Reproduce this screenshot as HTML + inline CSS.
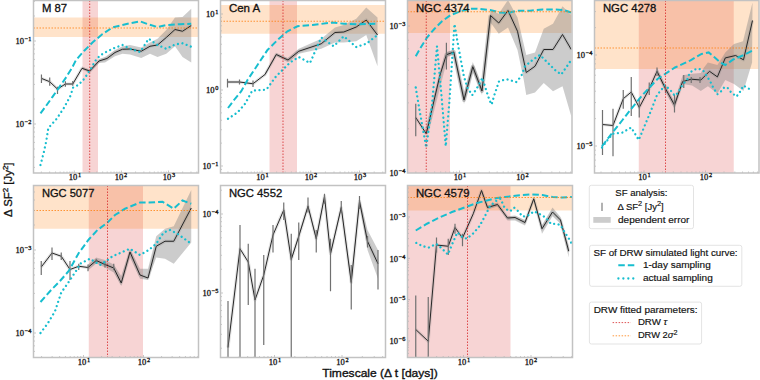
<!DOCTYPE html><html><head><meta charset="utf-8"><style>html,body{margin:0;padding:0;background:#fff;width:760px;height:380px;overflow:hidden}svg{display:block}</style></head><body>
<svg width="760" height="380" viewBox="0 0 760 380">
<rect width="760" height="380" fill="#fff"/>
<clipPath id="c0"><rect x="33.5" y="0.5" width="165.0" height="172.5"/></clipPath>
<g clip-path="url(#c0)">
<rect x="82.5" y="0.5" width="15.5" height="172.5" fill="#d62728" fill-opacity="0.2"/>
<rect x="33.5" y="17.5" width="165.0" height="19.5" fill="#ff7f0e" fill-opacity="0.22"/>
<polygon points="82.00,66.50 89.70,70.00 99.00,59.00 105.00,57.00 115.00,50.00 122.50,46.25 130.00,45.00 141.25,47.50 150.00,42.50 157.50,38.75 166.25,30.00 175.00,17.50 182.50,17.00 191.25,8.75 191.25,62.50 182.50,57.00 175.00,46.25 166.25,53.75 157.50,57.00 150.00,53.75 141.25,58.00 130.00,54.50 122.50,53.75 115.00,56.25 105.00,62.50 99.00,63.00 89.70,73.00 82.00,69.00" fill="#808080" fill-opacity="0.4" stroke="none"/>
<polyline points="41.45,78.40 49.70,81.70 57.50,89.10 65.40,84.00 72.75,84.00 82.00,68.30 89.70,71.00 99.00,61.00 107.00,58.50 115.00,52.50 122.50,49.25 130.00,49.00 141.25,51.25 150.00,46.25 157.50,45.00 166.25,37.50 175.00,29.50 182.50,31.25 191.25,25.50" fill="none" stroke="#808080" stroke-opacity="0.22" stroke-width="3.2" stroke-linejoin="round"/>
<polyline points="41.45,78.40 49.70,81.70 57.50,89.10 65.40,84.00 72.75,84.00 82.00,68.30 89.70,71.00 99.00,61.00 107.00,58.50 115.00,52.50 122.50,49.25 130.00,49.00 141.25,51.25 150.00,46.25 157.50,45.00 166.25,37.50 175.00,29.50 182.50,31.25 191.25,25.50" fill="none" stroke="#262626" stroke-width="1.0" stroke-linejoin="miter"/>
<line x1="41.45" y1="74.4" x2="41.45" y2="83" stroke="#707070" stroke-width="1.2"/>
<line x1="49.7" y1="77.5" x2="49.7" y2="85.8" stroke="#707070" stroke-width="1.2"/>
<line x1="57.5" y1="86.7" x2="57.5" y2="94" stroke="#707070" stroke-width="1.2"/>
<line x1="65.4" y1="81.2" x2="65.4" y2="86.7" stroke="#707070" stroke-width="1.2"/>
<line x1="72.75" y1="81" x2="72.75" y2="85.8" stroke="#707070" stroke-width="1.2"/>
<polyline points="40.50,113.40 46.00,106.00 52.50,96.80 59.00,87.60 65.40,78.40 71.80,68.30 76.00,60.00 84.00,51.00 92.50,42.50 102.50,34.00 112.50,27.50 122.50,25.00 130.00,23.25 140.00,21.25 148.75,24.50 157.50,27.00 166.25,25.00 180.00,24.25 191.25,23.75" fill="none" stroke="#17becf" stroke-width="2" stroke-dasharray="6.5 3"/>
<polyline points="40.50,165.00 43.75,152.50 46.25,141.25 48.30,128.10 56.60,118.90 63.90,107.90 70.40,95.90 73.10,87.60 76.80,85.80 82.40,81.20 87.00,74.70 91.60,67.40 95.20,60.90 100.00,55.50 105.00,52.50 113.75,48.25 122.50,45.00 130.00,48.75 140.00,52.00 148.75,38.75 157.50,45.00 166.25,48.75 175.00,44.50 182.50,43.25 191.25,46.75" fill="none" stroke="#17becf" stroke-width="2.3" stroke-dasharray="0.01 4.5" stroke-linecap="round"/>
<line x1="89.7" y1="0.5" x2="89.7" y2="173" stroke="#d62728" stroke-width="1" stroke-dasharray="1.5 1.5" stroke-opacity="0.8"/>
<line x1="33.5" y1="28" x2="198.5" y2="28" stroke="#ff7f0e" stroke-width="1" stroke-dasharray="1.5 1.5" stroke-opacity="0.8"/>
</g>
<line x1="41.38" y1="173" x2="41.38" y2="171.5" stroke="#b0b0b0" stroke-width="0.7"/><line x1="49.67" y1="173" x2="49.67" y2="171.5" stroke="#b0b0b0" stroke-width="0.7"/><line x1="55.56" y1="173" x2="55.56" y2="171.5" stroke="#b0b0b0" stroke-width="0.7"/><line x1="60.12" y1="173" x2="60.12" y2="171.5" stroke="#b0b0b0" stroke-width="0.7"/><line x1="63.85" y1="173" x2="63.85" y2="171.5" stroke="#b0b0b0" stroke-width="0.7"/><line x1="67.00" y1="173" x2="67.00" y2="171.5" stroke="#b0b0b0" stroke-width="0.7"/><line x1="69.74" y1="173" x2="69.74" y2="171.5" stroke="#b0b0b0" stroke-width="0.7"/><line x1="72.14" y1="173" x2="72.14" y2="171.5" stroke="#b0b0b0" stroke-width="0.7"/><line x1="74.30" y1="173" x2="74.30" y2="170.5" stroke="#b0b0b0" stroke-width="0.7"/><line x1="88.48" y1="173" x2="88.48" y2="171.5" stroke="#b0b0b0" stroke-width="0.7"/><line x1="96.77" y1="173" x2="96.77" y2="171.5" stroke="#b0b0b0" stroke-width="0.7"/><line x1="102.66" y1="173" x2="102.66" y2="171.5" stroke="#b0b0b0" stroke-width="0.7"/><line x1="107.22" y1="173" x2="107.22" y2="171.5" stroke="#b0b0b0" stroke-width="0.7"/><line x1="110.95" y1="173" x2="110.95" y2="171.5" stroke="#b0b0b0" stroke-width="0.7"/><line x1="114.10" y1="173" x2="114.10" y2="171.5" stroke="#b0b0b0" stroke-width="0.7"/><line x1="116.84" y1="173" x2="116.84" y2="171.5" stroke="#b0b0b0" stroke-width="0.7"/><line x1="119.24" y1="173" x2="119.24" y2="171.5" stroke="#b0b0b0" stroke-width="0.7"/><line x1="121.40" y1="173" x2="121.40" y2="170.5" stroke="#b0b0b0" stroke-width="0.7"/><line x1="135.58" y1="173" x2="135.58" y2="171.5" stroke="#b0b0b0" stroke-width="0.7"/><line x1="143.87" y1="173" x2="143.87" y2="171.5" stroke="#b0b0b0" stroke-width="0.7"/><line x1="149.76" y1="173" x2="149.76" y2="171.5" stroke="#b0b0b0" stroke-width="0.7"/><line x1="154.32" y1="173" x2="154.32" y2="171.5" stroke="#b0b0b0" stroke-width="0.7"/><line x1="158.05" y1="173" x2="158.05" y2="171.5" stroke="#b0b0b0" stroke-width="0.7"/><line x1="161.20" y1="173" x2="161.20" y2="171.5" stroke="#b0b0b0" stroke-width="0.7"/><line x1="163.94" y1="173" x2="163.94" y2="171.5" stroke="#b0b0b0" stroke-width="0.7"/><line x1="166.34" y1="173" x2="166.34" y2="171.5" stroke="#b0b0b0" stroke-width="0.7"/><line x1="168.50" y1="173" x2="168.50" y2="170.5" stroke="#b0b0b0" stroke-width="0.7"/><line x1="182.68" y1="173" x2="182.68" y2="171.5" stroke="#b0b0b0" stroke-width="0.7"/><line x1="190.97" y1="173" x2="190.97" y2="171.5" stroke="#b0b0b0" stroke-width="0.7"/><line x1="196.86" y1="173" x2="196.86" y2="171.5" stroke="#b0b0b0" stroke-width="0.7"/><line x1="33.5" y1="167.40" x2="35.0" y2="167.40" stroke="#b0b0b0" stroke-width="0.7"/><line x1="33.5" y1="157.03" x2="35.0" y2="157.03" stroke="#b0b0b0" stroke-width="0.7"/><line x1="33.5" y1="148.99" x2="35.0" y2="148.99" stroke="#b0b0b0" stroke-width="0.7"/><line x1="33.5" y1="142.41" x2="35.0" y2="142.41" stroke="#b0b0b0" stroke-width="0.7"/><line x1="33.5" y1="136.86" x2="35.0" y2="136.86" stroke="#b0b0b0" stroke-width="0.7"/><line x1="33.5" y1="132.04" x2="35.0" y2="132.04" stroke="#b0b0b0" stroke-width="0.7"/><line x1="33.5" y1="127.80" x2="35.0" y2="127.80" stroke="#b0b0b0" stroke-width="0.7"/><line x1="33.5" y1="124.00" x2="36.0" y2="124.00" stroke="#b0b0b0" stroke-width="0.7"/><line x1="33.5" y1="99.01" x2="35.0" y2="99.01" stroke="#b0b0b0" stroke-width="0.7"/><line x1="33.5" y1="84.40" x2="35.0" y2="84.40" stroke="#b0b0b0" stroke-width="0.7"/><line x1="33.5" y1="74.03" x2="35.0" y2="74.03" stroke="#b0b0b0" stroke-width="0.7"/><line x1="33.5" y1="65.99" x2="35.0" y2="65.99" stroke="#b0b0b0" stroke-width="0.7"/><line x1="33.5" y1="59.41" x2="35.0" y2="59.41" stroke="#b0b0b0" stroke-width="0.7"/><line x1="33.5" y1="53.86" x2="35.0" y2="53.86" stroke="#b0b0b0" stroke-width="0.7"/><line x1="33.5" y1="49.04" x2="35.0" y2="49.04" stroke="#b0b0b0" stroke-width="0.7"/><line x1="33.5" y1="44.80" x2="35.0" y2="44.80" stroke="#b0b0b0" stroke-width="0.7"/><line x1="33.5" y1="41.00" x2="36.0" y2="41.00" stroke="#b0b0b0" stroke-width="0.7"/><line x1="33.5" y1="16.01" x2="35.0" y2="16.01" stroke="#b0b0b0" stroke-width="0.7"/><line x1="33.5" y1="1.40" x2="35.0" y2="1.40" stroke="#b0b0b0" stroke-width="0.7"/>
<rect x="33.5" y="0.5" width="165.0" height="172.5" fill="none" stroke="#c2c2c2" stroke-width="1.5"/>
<text x="41.9" y="12.1" font-family="Liberation Sans" font-size="11.2" fill="#111" stroke="#111" stroke-width="0.3" textLength="25.2" lengthAdjust="spacingAndGlyphs">M 87</text>
<g transform="translate(31.5,44.4) scale(0.95,1)"><text x="0" y="0" text-anchor="end" font-family="Liberation Serif" font-size="9" fill="#1a1a1a" stroke="#1a1a1a" stroke-width="0.35">10<tspan font-size="6.6" dx="0.9" dy="-3.0">−1</tspan></text></g>
<g transform="translate(31.5,127.4) scale(0.95,1)"><text x="0" y="0" text-anchor="end" font-family="Liberation Serif" font-size="9" fill="#1a1a1a" stroke="#1a1a1a" stroke-width="0.35">10<tspan font-size="6.6" dx="0.9" dy="-3.0">−2</tspan></text></g>
<g transform="translate(75,180.4) scale(0.95,1)"><text x="0" y="0" text-anchor="middle" font-family="Liberation Serif" font-size="9" fill="#1a1a1a" stroke="#1a1a1a" stroke-width="0.35">10<tspan font-size="6.6" dx="0.9" dy="-3.0">1</tspan></text></g>
<g transform="translate(121,180.4) scale(0.95,1)"><text x="0" y="0" text-anchor="middle" font-family="Liberation Serif" font-size="9" fill="#1a1a1a" stroke="#1a1a1a" stroke-width="0.35">10<tspan font-size="6.6" dx="0.9" dy="-3.0">2</tspan></text></g>
<g transform="translate(169,180.4) scale(0.95,1)"><text x="0" y="0" text-anchor="middle" font-family="Liberation Serif" font-size="9" fill="#1a1a1a" stroke="#1a1a1a" stroke-width="0.35">10<tspan font-size="6.6" dx="0.9" dy="-3.0">3</tspan></text></g>
<clipPath id="c1"><rect x="220.5" y="0.5" width="165.0" height="172.5"/></clipPath>
<g clip-path="url(#c1)">
<rect x="269.5" y="0.5" width="27.5" height="172.5" fill="#d62728" fill-opacity="0.2"/>
<rect x="220.5" y="5" width="165.0" height="28.75" fill="#ff7f0e" fill-opacity="0.22"/>
<polygon points="265.00,73.00 276.25,53.00 287.50,58.00 290.00,56.25 298.75,48.75 310.00,43.75 321.25,38.75 335.00,27.50 343.75,25.00 356.25,18.75 366.25,7.50 377.50,17.50 377.50,66.25 366.25,35.00 356.25,41.25 343.75,42.50 335.00,42.50 321.25,48.75 310.00,51.25 298.75,53.75 290.00,61.25 287.50,62.00 276.25,56.00 265.00,76.00" fill="#808080" fill-opacity="0.4" stroke="none"/>
<polyline points="227.50,82.00 239.50,82.00 253.00,83.75 265.00,74.50 276.25,54.50 288.00,60.00 298.75,51.25 310.00,47.50 321.25,43.75 335.00,32.50 343.75,32.00 356.25,27.00 366.25,20.00 377.50,35.00" fill="none" stroke="#808080" stroke-opacity="0.22" stroke-width="3.2" stroke-linejoin="round"/>
<polyline points="227.50,82.00 239.50,82.00 253.00,83.75 265.00,74.50 276.25,54.50 288.00,60.00 298.75,51.25 310.00,47.50 321.25,43.75 335.00,32.50 343.75,32.00 356.25,27.00 366.25,20.00 377.50,35.00" fill="none" stroke="#262626" stroke-width="1.0" stroke-linejoin="miter"/>
<line x1="227.5" y1="78.75" x2="227.5" y2="87.5" stroke="#707070" stroke-width="1.2"/>
<line x1="239.5" y1="79.5" x2="239.5" y2="84.5" stroke="#707070" stroke-width="1.2"/>
<line x1="253" y1="80.5" x2="253" y2="87" stroke="#707070" stroke-width="1.2"/>
<polyline points="228.00,108.00 235.00,98.75 241.25,91.25 247.50,80.00 257.50,65.00 267.50,50.00 277.50,40.00 287.50,31.25 297.50,26.25 312.50,25.00 332.50,22.50 343.75,23.75 357.50,24.25 377.50,23.75" fill="none" stroke="#17becf" stroke-width="2" stroke-dasharray="6.5 3"/>
<polyline points="228.00,118.75 237.50,112.50 245.10,103.75 252.20,90.70 259.00,90.20 266.40,89.60 275.90,76.50 282.50,70.00 290.00,62.50 298.75,57.00 310.00,63.00 321.25,37.50 333.75,46.25 343.75,36.25 356.25,47.00 366.25,43.75 377.50,35.00" fill="none" stroke="#17becf" stroke-width="2.3" stroke-dasharray="0.01 4.5" stroke-linecap="round"/>
<line x1="283" y1="0.5" x2="283" y2="173" stroke="#d62728" stroke-width="1" stroke-dasharray="1.5 1.5" stroke-opacity="0.8"/>
<line x1="220.5" y1="21.25" x2="385.5" y2="21.25" stroke="#ff7f0e" stroke-width="1" stroke-dasharray="1.5 1.5" stroke-opacity="0.8"/>
</g>
<line x1="227.93" y1="173" x2="227.93" y2="171.5" stroke="#b0b0b0" stroke-width="0.7"/><line x1="236.51" y1="173" x2="236.51" y2="171.5" stroke="#b0b0b0" stroke-width="0.7"/><line x1="242.60" y1="173" x2="242.60" y2="171.5" stroke="#b0b0b0" stroke-width="0.7"/><line x1="247.32" y1="173" x2="247.32" y2="171.5" stroke="#b0b0b0" stroke-width="0.7"/><line x1="251.18" y1="173" x2="251.18" y2="171.5" stroke="#b0b0b0" stroke-width="0.7"/><line x1="254.45" y1="173" x2="254.45" y2="171.5" stroke="#b0b0b0" stroke-width="0.7"/><line x1="257.28" y1="173" x2="257.28" y2="171.5" stroke="#b0b0b0" stroke-width="0.7"/><line x1="259.77" y1="173" x2="259.77" y2="171.5" stroke="#b0b0b0" stroke-width="0.7"/><line x1="262.00" y1="173" x2="262.00" y2="170.5" stroke="#b0b0b0" stroke-width="0.7"/><line x1="276.68" y1="173" x2="276.68" y2="171.5" stroke="#b0b0b0" stroke-width="0.7"/><line x1="285.26" y1="173" x2="285.26" y2="171.5" stroke="#b0b0b0" stroke-width="0.7"/><line x1="291.35" y1="173" x2="291.35" y2="171.5" stroke="#b0b0b0" stroke-width="0.7"/><line x1="296.07" y1="173" x2="296.07" y2="171.5" stroke="#b0b0b0" stroke-width="0.7"/><line x1="299.93" y1="173" x2="299.93" y2="171.5" stroke="#b0b0b0" stroke-width="0.7"/><line x1="303.20" y1="173" x2="303.20" y2="171.5" stroke="#b0b0b0" stroke-width="0.7"/><line x1="306.03" y1="173" x2="306.03" y2="171.5" stroke="#b0b0b0" stroke-width="0.7"/><line x1="308.52" y1="173" x2="308.52" y2="171.5" stroke="#b0b0b0" stroke-width="0.7"/><line x1="310.75" y1="173" x2="310.75" y2="170.5" stroke="#b0b0b0" stroke-width="0.7"/><line x1="325.43" y1="173" x2="325.43" y2="171.5" stroke="#b0b0b0" stroke-width="0.7"/><line x1="334.01" y1="173" x2="334.01" y2="171.5" stroke="#b0b0b0" stroke-width="0.7"/><line x1="340.10" y1="173" x2="340.10" y2="171.5" stroke="#b0b0b0" stroke-width="0.7"/><line x1="344.82" y1="173" x2="344.82" y2="171.5" stroke="#b0b0b0" stroke-width="0.7"/><line x1="348.68" y1="173" x2="348.68" y2="171.5" stroke="#b0b0b0" stroke-width="0.7"/><line x1="351.95" y1="173" x2="351.95" y2="171.5" stroke="#b0b0b0" stroke-width="0.7"/><line x1="354.78" y1="173" x2="354.78" y2="171.5" stroke="#b0b0b0" stroke-width="0.7"/><line x1="357.27" y1="173" x2="357.27" y2="171.5" stroke="#b0b0b0" stroke-width="0.7"/><line x1="359.50" y1="173" x2="359.50" y2="170.5" stroke="#b0b0b0" stroke-width="0.7"/><line x1="374.18" y1="173" x2="374.18" y2="171.5" stroke="#b0b0b0" stroke-width="0.7"/><line x1="382.76" y1="173" x2="382.76" y2="171.5" stroke="#b0b0b0" stroke-width="0.7"/><line x1="220.5" y1="169.48" x2="222.0" y2="169.48" stroke="#b0b0b0" stroke-width="0.7"/><line x1="220.5" y1="166.00" x2="223.0" y2="166.00" stroke="#b0b0b0" stroke-width="0.7"/><line x1="220.5" y1="143.12" x2="222.0" y2="143.12" stroke="#b0b0b0" stroke-width="0.7"/><line x1="220.5" y1="129.74" x2="222.0" y2="129.74" stroke="#b0b0b0" stroke-width="0.7"/><line x1="220.5" y1="120.24" x2="222.0" y2="120.24" stroke="#b0b0b0" stroke-width="0.7"/><line x1="220.5" y1="112.88" x2="222.0" y2="112.88" stroke="#b0b0b0" stroke-width="0.7"/><line x1="220.5" y1="106.86" x2="222.0" y2="106.86" stroke="#b0b0b0" stroke-width="0.7"/><line x1="220.5" y1="101.77" x2="222.0" y2="101.77" stroke="#b0b0b0" stroke-width="0.7"/><line x1="220.5" y1="97.37" x2="222.0" y2="97.37" stroke="#b0b0b0" stroke-width="0.7"/><line x1="220.5" y1="93.48" x2="222.0" y2="93.48" stroke="#b0b0b0" stroke-width="0.7"/><line x1="220.5" y1="90.00" x2="223.0" y2="90.00" stroke="#b0b0b0" stroke-width="0.7"/><line x1="220.5" y1="67.12" x2="222.0" y2="67.12" stroke="#b0b0b0" stroke-width="0.7"/><line x1="220.5" y1="53.74" x2="222.0" y2="53.74" stroke="#b0b0b0" stroke-width="0.7"/><line x1="220.5" y1="44.24" x2="222.0" y2="44.24" stroke="#b0b0b0" stroke-width="0.7"/><line x1="220.5" y1="36.88" x2="222.0" y2="36.88" stroke="#b0b0b0" stroke-width="0.7"/><line x1="220.5" y1="30.86" x2="222.0" y2="30.86" stroke="#b0b0b0" stroke-width="0.7"/><line x1="220.5" y1="25.77" x2="222.0" y2="25.77" stroke="#b0b0b0" stroke-width="0.7"/><line x1="220.5" y1="21.37" x2="222.0" y2="21.37" stroke="#b0b0b0" stroke-width="0.7"/><line x1="220.5" y1="17.48" x2="222.0" y2="17.48" stroke="#b0b0b0" stroke-width="0.7"/><line x1="220.5" y1="14.00" x2="223.0" y2="14.00" stroke="#b0b0b0" stroke-width="0.7"/>
<rect x="220.5" y="0.5" width="165.0" height="172.5" fill="none" stroke="#c2c2c2" stroke-width="1.5"/>
<text x="228.9" y="12.1" font-family="Liberation Sans" font-size="11.2" fill="#111" stroke="#111" stroke-width="0.3" textLength="31.3" lengthAdjust="spacingAndGlyphs">Cen A</text>
<g transform="translate(218.5,17.4) scale(0.95,1)"><text x="0" y="0" text-anchor="end" font-family="Liberation Serif" font-size="9" fill="#1a1a1a" stroke="#1a1a1a" stroke-width="0.35">10<tspan font-size="6.6" dx="0.9" dy="-3.0">1</tspan></text></g>
<g transform="translate(218.5,93.4) scale(0.95,1)"><text x="0" y="0" text-anchor="end" font-family="Liberation Serif" font-size="9" fill="#1a1a1a" stroke="#1a1a1a" stroke-width="0.35">10<tspan font-size="6.6" dx="0.9" dy="-3.0">0</tspan></text></g>
<g transform="translate(218.5,169.4) scale(0.95,1)"><text x="0" y="0" text-anchor="end" font-family="Liberation Serif" font-size="9" fill="#1a1a1a" stroke="#1a1a1a" stroke-width="0.35">10<tspan font-size="6.6" dx="0.9" dy="-3.0">−1</tspan></text></g>
<g transform="translate(262.5,180.4) scale(0.95,1)"><text x="0" y="0" text-anchor="middle" font-family="Liberation Serif" font-size="9" fill="#1a1a1a" stroke="#1a1a1a" stroke-width="0.35">10<tspan font-size="6.6" dx="0.9" dy="-3.0">1</tspan></text></g>
<g transform="translate(311,180.4) scale(0.95,1)"><text x="0" y="0" text-anchor="middle" font-family="Liberation Serif" font-size="9" fill="#1a1a1a" stroke="#1a1a1a" stroke-width="0.35">10<tspan font-size="6.6" dx="0.9" dy="-3.0">2</tspan></text></g>
<g transform="translate(360,180.4) scale(0.95,1)"><text x="0" y="0" text-anchor="middle" font-family="Liberation Serif" font-size="9" fill="#1a1a1a" stroke="#1a1a1a" stroke-width="0.35">10<tspan font-size="6.6" dx="0.9" dy="-3.0">3</tspan></text></g>
<clipPath id="c2"><rect x="407.5" y="0.5" width="164.5" height="172.5"/></clipPath>
<g clip-path="url(#c2)">
<rect x="407.5" y="0.5" width="42.5" height="172.5" fill="#d62728" fill-opacity="0.2"/>
<rect x="407.5" y="0" width="164.5" height="33" fill="#ff7f0e" fill-opacity="0.22"/>
<polygon points="446.40,52.00 453.80,49.50 464.00,94.00 472.80,62.00 482.00,87.00 490.50,10.00 498.75,13.75 508.00,0.00 517.50,17.50 526.25,55.00 535.00,52.50 543.75,28.75 553.00,23.75 562.50,6.25 571.25,15.00 571.25,116.25 562.50,86.25 553.00,91.25 543.75,83.00 535.00,92.50 526.25,95.00 523.75,80.00 517.50,50.00 508.00,27.50 498.75,33.75 490.50,22.50 482.00,95.00 472.80,71.00 464.00,104.00 453.80,55.00 446.40,57.00" fill="#808080" fill-opacity="0.4" stroke="none"/>
<polyline points="415.75,117.50 426.25,133.75 440.00,75.00 446.40,54.70 453.80,52.00 464.00,100.00 472.80,66.70 482.00,91.00 490.50,15.50 498.75,23.00 508.00,10.50 517.50,31.25 526.25,72.50 535.00,66.25 543.75,49.50 553.00,49.50 562.50,34.50 571.25,49.50" fill="none" stroke="#808080" stroke-opacity="0.22" stroke-width="3.2" stroke-linejoin="round"/>
<polyline points="426.25,133.75 446.40,54.70 453.80,52.00 464.00,100.00 472.80,66.70 482.00,91.00 490.50,15.50" fill="none" stroke="#808080" stroke-opacity="0.35" stroke-width="4" stroke-linejoin="round"/>
<polyline points="415.75,117.50 426.25,133.75 440.00,75.00 446.40,54.70 453.80,52.00 464.00,100.00 472.80,66.70 482.00,91.00 490.50,15.50 498.75,23.00 508.00,10.50 517.50,31.25 526.25,72.50 535.00,66.25 543.75,49.50 553.00,49.50 562.50,34.50 571.25,49.50" fill="none" stroke="#262626" stroke-width="1.0" stroke-linejoin="miter"/>
<line x1="415.75" y1="103.75" x2="415.75" y2="136.25" stroke="#707070" stroke-width="1.2"/>
<line x1="446.4" y1="42.8" x2="446.4" y2="69.5" stroke="#707070" stroke-width="1.2"/>
<polyline points="415.75,56.25 420.75,47.50 427.00,37.50 434.50,28.75 442.00,21.25 450.75,15.00 460.75,11.25 469.50,8.75 477.00,8.75 490.00,10.00 500.00,12.50 507.50,13.00 517.50,10.75 530.00,10.75 542.50,9.50 555.00,9.50 563.75,10.00 571.25,12.50" fill="none" stroke="#17becf" stroke-width="2" stroke-dasharray="6.5 3"/>
<polyline points="415.75,87.50 419.50,110.00 426.25,147.50 432.00,105.00 437.00,46.25 441.00,90.00 445.75,146.25 449.50,100.00 454.50,24.00 457.50,41.80 461.20,62.00 464.00,76.80 467.60,87.90 472.20,95.20 476.00,89.70 479.60,83.30 482.40,77.80 486.00,89.70 489.70,100.80 491.60,104.50 494.30,95.20 499.00,81.40 503.75,80.00 507.50,79.50 516.25,82.00 521.25,76.25 525.00,66.25 532.50,60.00 540.00,55.00 547.50,62.50 555.00,70.00 561.25,74.50 571.25,60.00" fill="none" stroke="#17becf" stroke-width="2.3" stroke-dasharray="0.01 4.5" stroke-linecap="round"/>
<line x1="426.25" y1="0.5" x2="426.25" y2="173" stroke="#d62728" stroke-width="1" stroke-dasharray="1.5 1.5" stroke-opacity="0.8"/>
<line x1="407.5" y1="11.75" x2="572" y2="11.75" stroke="#ff7f0e" stroke-width="1" stroke-dasharray="1.5 1.5" stroke-opacity="0.8"/>
</g>
<line x1="415.81" y1="173" x2="415.81" y2="171.5" stroke="#b0b0b0" stroke-width="0.7"/><line x1="426.82" y1="173" x2="426.82" y2="171.5" stroke="#b0b0b0" stroke-width="0.7"/><line x1="434.63" y1="173" x2="434.63" y2="171.5" stroke="#b0b0b0" stroke-width="0.7"/><line x1="440.69" y1="173" x2="440.69" y2="171.5" stroke="#b0b0b0" stroke-width="0.7"/><line x1="445.63" y1="173" x2="445.63" y2="171.5" stroke="#b0b0b0" stroke-width="0.7"/><line x1="449.82" y1="173" x2="449.82" y2="171.5" stroke="#b0b0b0" stroke-width="0.7"/><line x1="453.44" y1="173" x2="453.44" y2="171.5" stroke="#b0b0b0" stroke-width="0.7"/><line x1="456.64" y1="173" x2="456.64" y2="171.5" stroke="#b0b0b0" stroke-width="0.7"/><line x1="459.50" y1="173" x2="459.50" y2="170.5" stroke="#b0b0b0" stroke-width="0.7"/><line x1="478.31" y1="173" x2="478.31" y2="171.5" stroke="#b0b0b0" stroke-width="0.7"/><line x1="489.32" y1="173" x2="489.32" y2="171.5" stroke="#b0b0b0" stroke-width="0.7"/><line x1="497.13" y1="173" x2="497.13" y2="171.5" stroke="#b0b0b0" stroke-width="0.7"/><line x1="503.19" y1="173" x2="503.19" y2="171.5" stroke="#b0b0b0" stroke-width="0.7"/><line x1="508.13" y1="173" x2="508.13" y2="171.5" stroke="#b0b0b0" stroke-width="0.7"/><line x1="512.32" y1="173" x2="512.32" y2="171.5" stroke="#b0b0b0" stroke-width="0.7"/><line x1="515.94" y1="173" x2="515.94" y2="171.5" stroke="#b0b0b0" stroke-width="0.7"/><line x1="519.14" y1="173" x2="519.14" y2="171.5" stroke="#b0b0b0" stroke-width="0.7"/><line x1="522.00" y1="173" x2="522.00" y2="170.5" stroke="#b0b0b0" stroke-width="0.7"/><line x1="540.81" y1="173" x2="540.81" y2="171.5" stroke="#b0b0b0" stroke-width="0.7"/><line x1="551.82" y1="173" x2="551.82" y2="171.5" stroke="#b0b0b0" stroke-width="0.7"/><line x1="559.63" y1="173" x2="559.63" y2="171.5" stroke="#b0b0b0" stroke-width="0.7"/><line x1="565.69" y1="173" x2="565.69" y2="171.5" stroke="#b0b0b0" stroke-width="0.7"/><line x1="570.63" y1="173" x2="570.63" y2="171.5" stroke="#b0b0b0" stroke-width="0.7"/><line x1="407.5" y1="128.75" x2="409.0" y2="128.75" stroke="#b0b0b0" stroke-width="0.7"/><line x1="407.5" y1="102.86" x2="409.0" y2="102.86" stroke="#b0b0b0" stroke-width="0.7"/><line x1="407.5" y1="84.50" x2="409.0" y2="84.50" stroke="#b0b0b0" stroke-width="0.7"/><line x1="407.5" y1="70.25" x2="409.0" y2="70.25" stroke="#b0b0b0" stroke-width="0.7"/><line x1="407.5" y1="58.61" x2="409.0" y2="58.61" stroke="#b0b0b0" stroke-width="0.7"/><line x1="407.5" y1="48.77" x2="409.0" y2="48.77" stroke="#b0b0b0" stroke-width="0.7"/><line x1="407.5" y1="40.25" x2="409.0" y2="40.25" stroke="#b0b0b0" stroke-width="0.7"/><line x1="407.5" y1="32.73" x2="409.0" y2="32.73" stroke="#b0b0b0" stroke-width="0.7"/><line x1="407.5" y1="26.00" x2="410.0" y2="26.00" stroke="#b0b0b0" stroke-width="0.7"/>
<rect x="407.5" y="0.5" width="164.5" height="172.5" fill="none" stroke="#c2c2c2" stroke-width="1.5"/>
<text x="415.9" y="12.1" font-family="Liberation Sans" font-size="11.2" fill="#111" stroke="#111" stroke-width="0.3" textLength="53.7" lengthAdjust="spacingAndGlyphs">NGC 4374</text>
<g transform="translate(405.5,29.4) scale(0.95,1)"><text x="0" y="0" text-anchor="end" font-family="Liberation Serif" font-size="9" fill="#1a1a1a" stroke="#1a1a1a" stroke-width="0.35">10<tspan font-size="6.6" dx="0.9" dy="-3.0">−3</tspan></text></g>
<g transform="translate(405.5,176.4) scale(0.95,1)"><text x="0" y="0" text-anchor="end" font-family="Liberation Serif" font-size="9" fill="#1a1a1a" stroke="#1a1a1a" stroke-width="0.35">10<tspan font-size="6.6" dx="0.9" dy="-3.0">−4</tspan></text></g>
<g transform="translate(460,180.4) scale(0.95,1)"><text x="0" y="0" text-anchor="middle" font-family="Liberation Serif" font-size="9" fill="#1a1a1a" stroke="#1a1a1a" stroke-width="0.35">10<tspan font-size="6.6" dx="0.9" dy="-3.0">1</tspan></text></g>
<g transform="translate(522.5,180.4) scale(0.95,1)"><text x="0" y="0" text-anchor="middle" font-family="Liberation Serif" font-size="9" fill="#1a1a1a" stroke="#1a1a1a" stroke-width="0.35">10<tspan font-size="6.6" dx="0.9" dy="-3.0">2</tspan></text></g>
<clipPath id="c3"><rect x="594.5" y="0.5" width="164.5" height="172.5"/></clipPath>
<g clip-path="url(#c3)">
<rect x="638.75" y="0.5" width="95.0" height="172.5" fill="#d62728" fill-opacity="0.2"/>
<rect x="594.5" y="0" width="164.5" height="69" fill="#ff7f0e" fill-opacity="0.22"/>
<polygon points="657.00,68.00 665.50,85.00 674.50,102.00 682.60,75.30 692.10,73.70 700.80,72.90 704.00,67.40 707.90,62.60 717.40,65.00 725.30,52.40 734.00,44.00 743.00,41.25 752.50,2.50 752.10,62.60 743.50,91.10 734.00,84.00 725.30,80.00 717.40,93.40 707.90,86.30 700.80,91.10 692.10,85.50 682.60,84.00 674.50,109.00 665.50,92.00 657.00,74.00" fill="#808080" fill-opacity="0.4" stroke="none"/>
<polyline points="602.50,124.50 613.00,125.50 623.25,98.75 631.25,92.00 639.25,107.50 649.25,88.75 657.00,71.25 665.50,88.75 674.50,105.00 682.60,81.60 691.30,79.20 700.80,80.00 709.50,71.30 717.40,76.90 725.30,57.90 735.60,55.50 743.50,59.80 752.50,20.50" fill="none" stroke="#808080" stroke-opacity="0.22" stroke-width="3.2" stroke-linejoin="round"/>
<polyline points="602.50,124.50 613.00,125.50 623.25,98.75 631.25,92.00 639.25,107.50 649.25,88.75 657.00,71.25 665.50,88.75 674.50,105.00 682.60,81.60 691.30,79.20 700.80,80.00 709.50,71.30 717.40,76.90 725.30,57.90 735.60,55.50 743.50,59.80 752.50,20.50" fill="none" stroke="#262626" stroke-width="1.0" stroke-linejoin="miter"/>
<line x1="602.5" y1="110" x2="602.5" y2="155" stroke="#707070" stroke-width="1.2"/>
<line x1="613" y1="108.75" x2="613" y2="156.25" stroke="#707070" stroke-width="1.2"/>
<line x1="623.25" y1="90" x2="623.25" y2="108.75" stroke="#707070" stroke-width="1.2"/>
<line x1="631.25" y1="77" x2="631.25" y2="116" stroke="#707070" stroke-width="1.2"/>
<line x1="639.25" y1="98.75" x2="639.25" y2="117.5" stroke="#707070" stroke-width="1.2"/>
<line x1="649.25" y1="82.5" x2="649.25" y2="95" stroke="#707070" stroke-width="1.2"/>
<line x1="657" y1="67.5" x2="657" y2="76" stroke="#707070" stroke-width="1.2"/>
<line x1="665.5" y1="85" x2="665.5" y2="93" stroke="#707070" stroke-width="1.2"/>
<line x1="674.5" y1="95" x2="674.5" y2="112.5" stroke="#707070" stroke-width="1.2"/>
<line x1="683.75" y1="75" x2="683.75" y2="88" stroke="#707070" stroke-width="1.2"/>
<line x1="691.25" y1="77" x2="691.25" y2="83" stroke="#707070" stroke-width="1.2"/>
<line x1="700" y1="77" x2="700" y2="83" stroke="#707070" stroke-width="1.2"/>
<polyline points="602.00,146.25 612.50,132.50 622.50,120.00 631.25,108.75 642.50,95.00 657.50,79.00 675.00,67.50 690.50,60.30 701.60,53.90 708.70,52.40 714.20,57.10 720.60,62.60 725.30,65.00 733.20,59.50 742.70,55.50 752.10,50.80" fill="none" stroke="#17becf" stroke-width="2" stroke-dasharray="6.5 3"/>
<polyline points="602.00,147.50 607.50,140.00 613.00,133.75 622.50,132.50 631.25,127.50 638.75,140.00 645.00,125.00 651.25,110.00 657.00,95.00 661.25,90.00 665.00,85.00 668.75,88.75 672.00,92.00 674.70,95.80 677.90,92.70 682.60,84.80 687.40,79.20 689.70,72.90 693.70,69.70 698.40,68.60 703.20,70.50 706.30,75.30 710.30,81.60 713.40,87.90 717.40,94.20 721.30,91.10 724.50,87.10 727.70,87.90 730.80,91.90 736.40,96.60 739.50,92.70 743.50,85.50 747.40,87.90 752.10,90.30" fill="none" stroke="#17becf" stroke-width="2.3" stroke-dasharray="0.01 4.5" stroke-linecap="round"/>
<line x1="665.5" y1="0.5" x2="665.5" y2="173" stroke="#d62728" stroke-width="1" stroke-dasharray="1.5 1.5" stroke-opacity="0.8"/>
<line x1="594.5" y1="48" x2="759" y2="48" stroke="#ff7f0e" stroke-width="1" stroke-dasharray="1.5 1.5" stroke-opacity="0.8"/>
</g>
<line x1="601.01" y1="173" x2="601.01" y2="171.5" stroke="#b0b0b0" stroke-width="0.7"/><line x1="611.84" y1="173" x2="611.84" y2="171.5" stroke="#b0b0b0" stroke-width="0.7"/><line x1="619.53" y1="173" x2="619.53" y2="171.5" stroke="#b0b0b0" stroke-width="0.7"/><line x1="625.49" y1="173" x2="625.49" y2="171.5" stroke="#b0b0b0" stroke-width="0.7"/><line x1="630.36" y1="173" x2="630.36" y2="171.5" stroke="#b0b0b0" stroke-width="0.7"/><line x1="634.47" y1="173" x2="634.47" y2="171.5" stroke="#b0b0b0" stroke-width="0.7"/><line x1="638.04" y1="173" x2="638.04" y2="171.5" stroke="#b0b0b0" stroke-width="0.7"/><line x1="641.19" y1="173" x2="641.19" y2="171.5" stroke="#b0b0b0" stroke-width="0.7"/><line x1="644.00" y1="173" x2="644.00" y2="170.5" stroke="#b0b0b0" stroke-width="0.7"/><line x1="662.51" y1="173" x2="662.51" y2="171.5" stroke="#b0b0b0" stroke-width="0.7"/><line x1="673.34" y1="173" x2="673.34" y2="171.5" stroke="#b0b0b0" stroke-width="0.7"/><line x1="681.03" y1="173" x2="681.03" y2="171.5" stroke="#b0b0b0" stroke-width="0.7"/><line x1="686.99" y1="173" x2="686.99" y2="171.5" stroke="#b0b0b0" stroke-width="0.7"/><line x1="691.86" y1="173" x2="691.86" y2="171.5" stroke="#b0b0b0" stroke-width="0.7"/><line x1="695.97" y1="173" x2="695.97" y2="171.5" stroke="#b0b0b0" stroke-width="0.7"/><line x1="699.54" y1="173" x2="699.54" y2="171.5" stroke="#b0b0b0" stroke-width="0.7"/><line x1="702.69" y1="173" x2="702.69" y2="171.5" stroke="#b0b0b0" stroke-width="0.7"/><line x1="705.50" y1="173" x2="705.50" y2="170.5" stroke="#b0b0b0" stroke-width="0.7"/><line x1="724.01" y1="173" x2="724.01" y2="171.5" stroke="#b0b0b0" stroke-width="0.7"/><line x1="734.84" y1="173" x2="734.84" y2="171.5" stroke="#b0b0b0" stroke-width="0.7"/><line x1="742.53" y1="173" x2="742.53" y2="171.5" stroke="#b0b0b0" stroke-width="0.7"/><line x1="748.49" y1="173" x2="748.49" y2="171.5" stroke="#b0b0b0" stroke-width="0.7"/><line x1="753.36" y1="173" x2="753.36" y2="171.5" stroke="#b0b0b0" stroke-width="0.7"/><line x1="757.47" y1="173" x2="757.47" y2="171.5" stroke="#b0b0b0" stroke-width="0.7"/><line x1="594.5" y1="166.19" x2="596.0" y2="166.19" stroke="#b0b0b0" stroke-width="0.7"/><line x1="594.5" y1="160.10" x2="596.0" y2="160.10" stroke="#b0b0b0" stroke-width="0.7"/><line x1="594.5" y1="154.82" x2="596.0" y2="154.82" stroke="#b0b0b0" stroke-width="0.7"/><line x1="594.5" y1="150.16" x2="596.0" y2="150.16" stroke="#b0b0b0" stroke-width="0.7"/><line x1="594.5" y1="146.00" x2="597.0" y2="146.00" stroke="#b0b0b0" stroke-width="0.7"/><line x1="594.5" y1="118.61" x2="596.0" y2="118.61" stroke="#b0b0b0" stroke-width="0.7"/><line x1="594.5" y1="102.58" x2="596.0" y2="102.58" stroke="#b0b0b0" stroke-width="0.7"/><line x1="594.5" y1="91.21" x2="596.0" y2="91.21" stroke="#b0b0b0" stroke-width="0.7"/><line x1="594.5" y1="82.39" x2="596.0" y2="82.39" stroke="#b0b0b0" stroke-width="0.7"/><line x1="594.5" y1="75.19" x2="596.0" y2="75.19" stroke="#b0b0b0" stroke-width="0.7"/><line x1="594.5" y1="69.10" x2="596.0" y2="69.10" stroke="#b0b0b0" stroke-width="0.7"/><line x1="594.5" y1="63.82" x2="596.0" y2="63.82" stroke="#b0b0b0" stroke-width="0.7"/><line x1="594.5" y1="59.16" x2="596.0" y2="59.16" stroke="#b0b0b0" stroke-width="0.7"/><line x1="594.5" y1="55.00" x2="597.0" y2="55.00" stroke="#b0b0b0" stroke-width="0.7"/><line x1="594.5" y1="27.61" x2="596.0" y2="27.61" stroke="#b0b0b0" stroke-width="0.7"/><line x1="594.5" y1="11.58" x2="596.0" y2="11.58" stroke="#b0b0b0" stroke-width="0.7"/>
<rect x="594.5" y="0.5" width="164.5" height="172.5" fill="none" stroke="#c2c2c2" stroke-width="1.5"/>
<text x="602.9" y="12.1" font-family="Liberation Sans" font-size="11.2" fill="#111" stroke="#111" stroke-width="0.3" textLength="53.5" lengthAdjust="spacingAndGlyphs">NGC 4278</text>
<g transform="translate(592.5,58.4) scale(0.95,1)"><text x="0" y="0" text-anchor="end" font-family="Liberation Serif" font-size="9" fill="#1a1a1a" stroke="#1a1a1a" stroke-width="0.35">10<tspan font-size="6.6" dx="0.9" dy="-3.0">−4</tspan></text></g>
<g transform="translate(592.5,149.4) scale(0.95,1)"><text x="0" y="0" text-anchor="end" font-family="Liberation Serif" font-size="9" fill="#1a1a1a" stroke="#1a1a1a" stroke-width="0.35">10<tspan font-size="6.6" dx="0.9" dy="-3.0">−5</tspan></text></g>
<g transform="translate(644.5,180.4) scale(0.95,1)"><text x="0" y="0" text-anchor="middle" font-family="Liberation Serif" font-size="9" fill="#1a1a1a" stroke="#1a1a1a" stroke-width="0.35">10<tspan font-size="6.6" dx="0.9" dy="-3.0">1</tspan></text></g>
<g transform="translate(706,180.4) scale(0.95,1)"><text x="0" y="0" text-anchor="middle" font-family="Liberation Serif" font-size="9" fill="#1a1a1a" stroke="#1a1a1a" stroke-width="0.35">10<tspan font-size="6.6" dx="0.9" dy="-3.0">2</tspan></text></g>
<clipPath id="c4"><rect x="33.5" y="185.5" width="165.0" height="172.0"/></clipPath>
<g clip-path="url(#c4)">
<rect x="88.75" y="185.5" width="54.25" height="172.0" fill="#d62728" fill-opacity="0.2"/>
<rect x="33.5" y="185" width="165.0" height="43.75" fill="#ff7f0e" fill-opacity="0.22"/>
<polygon points="88.00,264.50 96.25,257.50 105.00,260.00 113.75,264.50 121.25,276.00 130.00,248.75 140.00,268.75 148.00,268.75 156.25,236.25 165.00,228.75 173.75,226.25 191.25,190.00 191.25,242.50 173.75,263.75 165.00,258.75 156.25,257.50 148.00,280.00 140.00,278.75 130.00,257.50 121.25,286.00 113.75,272.50 105.00,267.50 96.25,263.50 88.00,270.50" fill="#808080" fill-opacity="0.4" stroke="none"/>
<polyline points="41.25,267.00 52.00,253.00 61.25,256.25 70.00,269.50 78.75,266.25 88.00,267.50 96.25,260.50 105.00,264.50 113.75,268.00 121.25,283.00 130.00,252.00 140.00,275.00 148.00,278.00 156.25,246.25 165.00,241.25 173.75,241.25 191.25,208.00" fill="none" stroke="#808080" stroke-opacity="0.22" stroke-width="3.2" stroke-linejoin="round"/>
<polyline points="41.25,267.00 52.00,253.00 61.25,256.25 70.00,269.50 78.75,266.25 88.00,267.50 96.25,260.50 105.00,264.50 113.75,268.00 121.25,283.00 130.00,252.00 140.00,275.00 148.00,278.00 156.25,246.25 165.00,241.25 173.75,241.25 191.25,208.00" fill="none" stroke="#262626" stroke-width="1.0" stroke-linejoin="miter"/>
<line x1="41.25" y1="261" x2="41.25" y2="275" stroke="#707070" stroke-width="1.2"/>
<line x1="52" y1="247.5" x2="52" y2="260" stroke="#707070" stroke-width="1.2"/>
<line x1="61.25" y1="252.5" x2="61.25" y2="260" stroke="#707070" stroke-width="1.2"/>
<line x1="70" y1="261" x2="70" y2="280" stroke="#707070" stroke-width="1.2"/>
<line x1="78.75" y1="263.75" x2="78.75" y2="270" stroke="#707070" stroke-width="1.2"/>
<line x1="88" y1="264.5" x2="88" y2="271.25" stroke="#707070" stroke-width="1.2"/>
<line x1="96.25" y1="258.75" x2="96.25" y2="263.75" stroke="#707070" stroke-width="1.2"/>
<line x1="105" y1="261.25" x2="105" y2="267.5" stroke="#707070" stroke-width="1.2"/>
<line x1="113.75" y1="263.75" x2="113.75" y2="270" stroke="#707070" stroke-width="1.2"/>
<polyline points="40.50,302.00 50.00,291.25 60.00,281.00 68.75,271.00 78.75,253.00 88.75,239.50 97.50,230.00 107.50,222.50 115.00,215.00 125.00,208.75 140.00,202.50 148.75,202.50 162.50,201.75 173.75,208.75 182.50,200.50 191.25,203.75" fill="none" stroke="#17becf" stroke-width="2" stroke-dasharray="6.5 3"/>
<polyline points="40.50,333.00 47.50,323.75 55.00,311.25 61.25,292.50 67.50,283.75 77.50,268.75 80.00,263.75 90.00,258.75 100.00,265.00 107.50,260.00 112.50,256.25 121.25,252.50 130.00,248.75 140.00,255.00 148.75,250.00 156.25,243.75 163.75,232.50 170.00,230.00 177.50,233.75 191.25,243.75" fill="none" stroke="#17becf" stroke-width="2.3" stroke-dasharray="0.01 4.5" stroke-linecap="round"/>
<line x1="107.5" y1="185.5" x2="107.5" y2="357.5" stroke="#d62728" stroke-width="1" stroke-dasharray="1.5 1.5" stroke-opacity="0.8"/>
<line x1="33.5" y1="210.5" x2="198.5" y2="210.5" stroke="#ff7f0e" stroke-width="1" stroke-dasharray="1.5 1.5" stroke-opacity="0.8"/>
</g>
<line x1="41.56" y1="357.5" x2="41.56" y2="356.0" stroke="#b0b0b0" stroke-width="0.7"/><line x1="52.13" y1="357.5" x2="52.13" y2="356.0" stroke="#b0b0b0" stroke-width="0.7"/><line x1="59.62" y1="357.5" x2="59.62" y2="356.0" stroke="#b0b0b0" stroke-width="0.7"/><line x1="65.44" y1="357.5" x2="65.44" y2="356.0" stroke="#b0b0b0" stroke-width="0.7"/><line x1="70.19" y1="357.5" x2="70.19" y2="356.0" stroke="#b0b0b0" stroke-width="0.7"/><line x1="74.21" y1="357.5" x2="74.21" y2="356.0" stroke="#b0b0b0" stroke-width="0.7"/><line x1="77.69" y1="357.5" x2="77.69" y2="356.0" stroke="#b0b0b0" stroke-width="0.7"/><line x1="80.75" y1="357.5" x2="80.75" y2="356.0" stroke="#b0b0b0" stroke-width="0.7"/><line x1="83.50" y1="357.5" x2="83.50" y2="355.0" stroke="#b0b0b0" stroke-width="0.7"/><line x1="101.56" y1="357.5" x2="101.56" y2="356.0" stroke="#b0b0b0" stroke-width="0.7"/><line x1="112.13" y1="357.5" x2="112.13" y2="356.0" stroke="#b0b0b0" stroke-width="0.7"/><line x1="119.62" y1="357.5" x2="119.62" y2="356.0" stroke="#b0b0b0" stroke-width="0.7"/><line x1="125.44" y1="357.5" x2="125.44" y2="356.0" stroke="#b0b0b0" stroke-width="0.7"/><line x1="130.19" y1="357.5" x2="130.19" y2="356.0" stroke="#b0b0b0" stroke-width="0.7"/><line x1="134.21" y1="357.5" x2="134.21" y2="356.0" stroke="#b0b0b0" stroke-width="0.7"/><line x1="137.69" y1="357.5" x2="137.69" y2="356.0" stroke="#b0b0b0" stroke-width="0.7"/><line x1="140.75" y1="357.5" x2="140.75" y2="356.0" stroke="#b0b0b0" stroke-width="0.7"/><line x1="143.50" y1="357.5" x2="143.50" y2="355.0" stroke="#b0b0b0" stroke-width="0.7"/><line x1="161.56" y1="357.5" x2="161.56" y2="356.0" stroke="#b0b0b0" stroke-width="0.7"/><line x1="172.13" y1="357.5" x2="172.13" y2="356.0" stroke="#b0b0b0" stroke-width="0.7"/><line x1="179.62" y1="357.5" x2="179.62" y2="356.0" stroke="#b0b0b0" stroke-width="0.7"/><line x1="185.44" y1="357.5" x2="185.44" y2="356.0" stroke="#b0b0b0" stroke-width="0.7"/><line x1="190.19" y1="357.5" x2="190.19" y2="356.0" stroke="#b0b0b0" stroke-width="0.7"/><line x1="194.21" y1="357.5" x2="194.21" y2="356.0" stroke="#b0b0b0" stroke-width="0.7"/><line x1="197.69" y1="357.5" x2="197.69" y2="356.0" stroke="#b0b0b0" stroke-width="0.7"/><line x1="33.5" y1="351.41" x2="35.0" y2="351.41" stroke="#b0b0b0" stroke-width="0.7"/><line x1="33.5" y1="345.86" x2="35.0" y2="345.86" stroke="#b0b0b0" stroke-width="0.7"/><line x1="33.5" y1="341.04" x2="35.0" y2="341.04" stroke="#b0b0b0" stroke-width="0.7"/><line x1="33.5" y1="336.80" x2="35.0" y2="336.80" stroke="#b0b0b0" stroke-width="0.7"/><line x1="33.5" y1="333.00" x2="36.0" y2="333.00" stroke="#b0b0b0" stroke-width="0.7"/><line x1="33.5" y1="308.01" x2="35.0" y2="308.01" stroke="#b0b0b0" stroke-width="0.7"/><line x1="33.5" y1="293.40" x2="35.0" y2="293.40" stroke="#b0b0b0" stroke-width="0.7"/><line x1="33.5" y1="283.03" x2="35.0" y2="283.03" stroke="#b0b0b0" stroke-width="0.7"/><line x1="33.5" y1="274.99" x2="35.0" y2="274.99" stroke="#b0b0b0" stroke-width="0.7"/><line x1="33.5" y1="268.41" x2="35.0" y2="268.41" stroke="#b0b0b0" stroke-width="0.7"/><line x1="33.5" y1="262.86" x2="35.0" y2="262.86" stroke="#b0b0b0" stroke-width="0.7"/><line x1="33.5" y1="258.04" x2="35.0" y2="258.04" stroke="#b0b0b0" stroke-width="0.7"/><line x1="33.5" y1="253.80" x2="35.0" y2="253.80" stroke="#b0b0b0" stroke-width="0.7"/><line x1="33.5" y1="250.00" x2="36.0" y2="250.00" stroke="#b0b0b0" stroke-width="0.7"/><line x1="33.5" y1="225.01" x2="35.0" y2="225.01" stroke="#b0b0b0" stroke-width="0.7"/><line x1="33.5" y1="210.40" x2="35.0" y2="210.40" stroke="#b0b0b0" stroke-width="0.7"/><line x1="33.5" y1="200.03" x2="35.0" y2="200.03" stroke="#b0b0b0" stroke-width="0.7"/><line x1="33.5" y1="191.99" x2="35.0" y2="191.99" stroke="#b0b0b0" stroke-width="0.7"/>
<rect x="33.5" y="185.5" width="165.0" height="172.0" fill="none" stroke="#c2c2c2" stroke-width="1.5"/>
<text x="41.9" y="197.1" font-family="Liberation Sans" font-size="11.2" fill="#111" stroke="#111" stroke-width="0.3" textLength="52.5" lengthAdjust="spacingAndGlyphs">NGC 5077</text>
<g transform="translate(31.5,253.4) scale(0.95,1)"><text x="0" y="0" text-anchor="end" font-family="Liberation Serif" font-size="9" fill="#1a1a1a" stroke="#1a1a1a" stroke-width="0.35">10<tspan font-size="6.6" dx="0.9" dy="-3.0">−3</tspan></text></g>
<g transform="translate(31.5,336.4) scale(0.95,1)"><text x="0" y="0" text-anchor="end" font-family="Liberation Serif" font-size="9" fill="#1a1a1a" stroke="#1a1a1a" stroke-width="0.35">10<tspan font-size="6.6" dx="0.9" dy="-3.0">−4</tspan></text></g>
<g transform="translate(84,364.9) scale(0.95,1)"><text x="0" y="0" text-anchor="middle" font-family="Liberation Serif" font-size="9" fill="#1a1a1a" stroke="#1a1a1a" stroke-width="0.35">10<tspan font-size="6.6" dx="0.9" dy="-3.0">1</tspan></text></g>
<g transform="translate(144,364.9) scale(0.95,1)"><text x="0" y="0" text-anchor="middle" font-family="Liberation Serif" font-size="9" fill="#1a1a1a" stroke="#1a1a1a" stroke-width="0.35">10<tspan font-size="6.6" dx="0.9" dy="-3.0">2</tspan></text></g>
<clipPath id="c5"><rect x="220.5" y="185.5" width="165.0" height="172.0"/></clipPath>
<g clip-path="url(#c5)">
<polygon points="291.25,258.00 298.75,234.50 308.00,204.50 316.25,237.00 324.50,194.50 330.50,252.00 341.25,205.50 351.25,277.00 359.50,197.50 367.50,230.00 378.00,250.00 378.00,278.75 367.50,250.00 359.50,205.00 351.25,284.00 341.25,209.50 330.50,255.50 324.50,198.00 316.25,240.50 308.00,208.00 298.75,238.00 291.25,261.00" fill="#808080" fill-opacity="0.4" stroke="none"/>
<polyline points="228.00,347.50 240.00,248.75 248.25,262.00 255.00,300.00 263.75,275.00 273.00,235.00 283.75,210.00 291.25,259.50 298.75,236.25 308.00,206.25 316.25,238.75 324.50,196.25 330.50,253.75 341.25,207.50 351.25,282.50 359.50,201.25 367.50,241.25 378.00,263.75" fill="none" stroke="#808080" stroke-opacity="0.22" stroke-width="3.2" stroke-linejoin="round"/>
<polyline points="228.00,347.50 240.00,248.75 248.25,262.00 255.00,300.00 263.75,275.00 273.00,235.00 283.75,210.00 291.25,259.50 298.75,236.25 308.00,206.25 316.25,238.75 324.50,196.25 330.50,253.75 341.25,207.50 351.25,282.50 359.50,201.25 367.50,241.25 378.00,263.75" fill="none" stroke="#262626" stroke-width="1.0" stroke-linejoin="miter"/>
<line x1="228" y1="301" x2="228" y2="357.5" stroke="#707070" stroke-width="1.2"/>
<line x1="240" y1="225" x2="240" y2="357.5" stroke="#707070" stroke-width="1.2"/>
<line x1="248.25" y1="243.75" x2="248.25" y2="305" stroke="#707070" stroke-width="1.2"/>
<line x1="255" y1="268.75" x2="255" y2="357.5" stroke="#707070" stroke-width="1.2"/>
<line x1="263.75" y1="255" x2="263.75" y2="345" stroke="#707070" stroke-width="1.2"/>
<line x1="273" y1="225" x2="273" y2="252.5" stroke="#707070" stroke-width="1.2"/>
<line x1="283.75" y1="202.5" x2="283.75" y2="220" stroke="#707070" stroke-width="1.2"/>
<line x1="291.25" y1="233.75" x2="291.25" y2="357.5" stroke="#707070" stroke-width="1.2"/>
<line x1="298.75" y1="222.5" x2="298.75" y2="260" stroke="#707070" stroke-width="1.2"/>
<line x1="308" y1="197.5" x2="308" y2="212.5" stroke="#707070" stroke-width="1.2"/>
<line x1="316.25" y1="230" x2="316.25" y2="252.5" stroke="#707070" stroke-width="1.2"/>
<line x1="324.5" y1="193.75" x2="324.5" y2="203.75" stroke="#707070" stroke-width="1.2"/>
<line x1="330.5" y1="238.75" x2="330.5" y2="291.25" stroke="#707070" stroke-width="1.2"/>
<line x1="341.25" y1="201" x2="341.25" y2="212.5" stroke="#707070" stroke-width="1.2"/>
<line x1="351.25" y1="265" x2="351.25" y2="309.5" stroke="#707070" stroke-width="1.2"/>
<line x1="359.5" y1="196" x2="359.5" y2="209" stroke="#707070" stroke-width="1.2"/>
<line x1="367.5" y1="236" x2="367.5" y2="247.5" stroke="#707070" stroke-width="1.2"/>
<line x1="378" y1="250" x2="378" y2="289.5" stroke="#707070" stroke-width="1.2"/>
</g>
<line x1="227.32" y1="357.5" x2="227.32" y2="356.0" stroke="#b0b0b0" stroke-width="0.7"/><line x1="239.21" y1="357.5" x2="239.21" y2="356.0" stroke="#b0b0b0" stroke-width="0.7"/><line x1="247.64" y1="357.5" x2="247.64" y2="356.0" stroke="#b0b0b0" stroke-width="0.7"/><line x1="254.18" y1="357.5" x2="254.18" y2="356.0" stroke="#b0b0b0" stroke-width="0.7"/><line x1="259.53" y1="357.5" x2="259.53" y2="356.0" stroke="#b0b0b0" stroke-width="0.7"/><line x1="264.04" y1="357.5" x2="264.04" y2="356.0" stroke="#b0b0b0" stroke-width="0.7"/><line x1="267.96" y1="357.5" x2="267.96" y2="356.0" stroke="#b0b0b0" stroke-width="0.7"/><line x1="271.41" y1="357.5" x2="271.41" y2="356.0" stroke="#b0b0b0" stroke-width="0.7"/><line x1="274.50" y1="357.5" x2="274.50" y2="355.0" stroke="#b0b0b0" stroke-width="0.7"/><line x1="294.82" y1="357.5" x2="294.82" y2="356.0" stroke="#b0b0b0" stroke-width="0.7"/><line x1="306.71" y1="357.5" x2="306.71" y2="356.0" stroke="#b0b0b0" stroke-width="0.7"/><line x1="315.14" y1="357.5" x2="315.14" y2="356.0" stroke="#b0b0b0" stroke-width="0.7"/><line x1="321.68" y1="357.5" x2="321.68" y2="356.0" stroke="#b0b0b0" stroke-width="0.7"/><line x1="327.03" y1="357.5" x2="327.03" y2="356.0" stroke="#b0b0b0" stroke-width="0.7"/><line x1="331.54" y1="357.5" x2="331.54" y2="356.0" stroke="#b0b0b0" stroke-width="0.7"/><line x1="335.46" y1="357.5" x2="335.46" y2="356.0" stroke="#b0b0b0" stroke-width="0.7"/><line x1="338.91" y1="357.5" x2="338.91" y2="356.0" stroke="#b0b0b0" stroke-width="0.7"/><line x1="342.00" y1="357.5" x2="342.00" y2="355.0" stroke="#b0b0b0" stroke-width="0.7"/><line x1="362.32" y1="357.5" x2="362.32" y2="356.0" stroke="#b0b0b0" stroke-width="0.7"/><line x1="374.21" y1="357.5" x2="374.21" y2="356.0" stroke="#b0b0b0" stroke-width="0.7"/><line x1="382.64" y1="357.5" x2="382.64" y2="356.0" stroke="#b0b0b0" stroke-width="0.7"/><line x1="220.5" y1="348.22" x2="222.0" y2="348.22" stroke="#b0b0b0" stroke-width="0.7"/><line x1="220.5" y1="334.31" x2="222.0" y2="334.31" stroke="#b0b0b0" stroke-width="0.7"/><line x1="220.5" y1="324.44" x2="222.0" y2="324.44" stroke="#b0b0b0" stroke-width="0.7"/><line x1="220.5" y1="316.78" x2="222.0" y2="316.78" stroke="#b0b0b0" stroke-width="0.7"/><line x1="220.5" y1="310.53" x2="222.0" y2="310.53" stroke="#b0b0b0" stroke-width="0.7"/><line x1="220.5" y1="305.24" x2="222.0" y2="305.24" stroke="#b0b0b0" stroke-width="0.7"/><line x1="220.5" y1="300.66" x2="222.0" y2="300.66" stroke="#b0b0b0" stroke-width="0.7"/><line x1="220.5" y1="296.61" x2="222.0" y2="296.61" stroke="#b0b0b0" stroke-width="0.7"/><line x1="220.5" y1="293.00" x2="223.0" y2="293.00" stroke="#b0b0b0" stroke-width="0.7"/><line x1="220.5" y1="269.22" x2="222.0" y2="269.22" stroke="#b0b0b0" stroke-width="0.7"/><line x1="220.5" y1="255.31" x2="222.0" y2="255.31" stroke="#b0b0b0" stroke-width="0.7"/><line x1="220.5" y1="245.44" x2="222.0" y2="245.44" stroke="#b0b0b0" stroke-width="0.7"/><line x1="220.5" y1="237.78" x2="222.0" y2="237.78" stroke="#b0b0b0" stroke-width="0.7"/><line x1="220.5" y1="231.53" x2="222.0" y2="231.53" stroke="#b0b0b0" stroke-width="0.7"/><line x1="220.5" y1="226.24" x2="222.0" y2="226.24" stroke="#b0b0b0" stroke-width="0.7"/><line x1="220.5" y1="221.66" x2="222.0" y2="221.66" stroke="#b0b0b0" stroke-width="0.7"/><line x1="220.5" y1="217.61" x2="222.0" y2="217.61" stroke="#b0b0b0" stroke-width="0.7"/><line x1="220.5" y1="214.00" x2="223.0" y2="214.00" stroke="#b0b0b0" stroke-width="0.7"/><line x1="220.5" y1="190.22" x2="222.0" y2="190.22" stroke="#b0b0b0" stroke-width="0.7"/>
<rect x="220.5" y="185.5" width="165.0" height="172.0" fill="none" stroke="#c2c2c2" stroke-width="1.5"/>
<text x="228.9" y="197.1" font-family="Liberation Sans" font-size="11.2" fill="#111" stroke="#111" stroke-width="0.3" textLength="53.3" lengthAdjust="spacingAndGlyphs">NGC 4552</text>
<g transform="translate(218.5,217.4) scale(0.95,1)"><text x="0" y="0" text-anchor="end" font-family="Liberation Serif" font-size="9" fill="#1a1a1a" stroke="#1a1a1a" stroke-width="0.35">10<tspan font-size="6.6" dx="0.9" dy="-3.0">−4</tspan></text></g>
<g transform="translate(218.5,296.4) scale(0.95,1)"><text x="0" y="0" text-anchor="end" font-family="Liberation Serif" font-size="9" fill="#1a1a1a" stroke="#1a1a1a" stroke-width="0.35">10<tspan font-size="6.6" dx="0.9" dy="-3.0">−5</tspan></text></g>
<g transform="translate(275,364.9) scale(0.95,1)"><text x="0" y="0" text-anchor="middle" font-family="Liberation Serif" font-size="9" fill="#1a1a1a" stroke="#1a1a1a" stroke-width="0.35">10<tspan font-size="6.6" dx="0.9" dy="-3.0">1</tspan></text></g>
<g transform="translate(342.5,364.9) scale(0.95,1)"><text x="0" y="0" text-anchor="middle" font-family="Liberation Serif" font-size="9" fill="#1a1a1a" stroke="#1a1a1a" stroke-width="0.35">10<tspan font-size="6.6" dx="0.9" dy="-3.0">2</tspan></text></g>
<clipPath id="c6"><rect x="407.5" y="185.5" width="165.0" height="172.0"/></clipPath>
<g clip-path="url(#c6)">
<rect x="407.5" y="185.5" width="103.0" height="172.0" fill="#d62728" fill-opacity="0.2"/>
<rect x="407.5" y="185" width="165.0" height="25.5" fill="#ff7f0e" fill-opacity="0.22"/>
<polygon points="481.50,189.00 487.50,205.50 497.50,202.50 507.50,216.25 515.00,215.50 525.00,220.00 533.75,197.50 542.00,225.00 552.50,207.50 560.50,217.00 568.75,246.25 568.75,257.50 560.50,223.75 552.50,216.25 542.00,233.75 533.75,201.25 525.00,225.50 515.00,220.50 507.50,220.50 497.50,206.50 487.50,209.50 481.50,193.00" fill="#808080" fill-opacity="0.4" stroke="none"/>
<polyline points="415.75,329.50 428.25,341.25 436.50,245.00 448.25,246.25 455.00,227.50 462.50,238.00 473.25,213.75 481.50,190.50 487.50,207.50 497.50,204.50 507.50,218.00 515.00,217.50 525.00,222.50 533.75,198.75 542.00,228.75 552.50,212.00 560.50,220.00 568.75,251.25" fill="none" stroke="#808080" stroke-opacity="0.22" stroke-width="3.2" stroke-linejoin="round"/>
<polyline points="415.75,329.50 428.25,341.25 436.50,245.00 448.25,246.25 455.00,227.50 462.50,238.00 473.25,213.75 481.50,190.50 487.50,207.50 497.50,204.50 507.50,218.00 515.00,217.50 525.00,222.50 533.75,198.75 542.00,228.75 552.50,212.00 560.50,220.00 568.75,251.25" fill="none" stroke="#262626" stroke-width="1.0" stroke-linejoin="miter"/>
<line x1="415.75" y1="295.5" x2="415.75" y2="357.5" stroke="#707070" stroke-width="1.2"/>
<line x1="428.25" y1="297" x2="428.25" y2="357.5" stroke="#707070" stroke-width="1.2"/>
<line x1="436.5" y1="237.5" x2="436.5" y2="252.5" stroke="#707070" stroke-width="1.2"/>
<line x1="448.25" y1="238.75" x2="448.25" y2="255" stroke="#707070" stroke-width="1.2"/>
<line x1="455" y1="223.75" x2="455" y2="233.75" stroke="#707070" stroke-width="1.2"/>
<line x1="462.5" y1="233.75" x2="462.5" y2="246.25" stroke="#707070" stroke-width="1.2"/>
<polyline points="415.75,230.50 427.00,223.75 439.50,217.50 452.00,212.00 464.50,207.50 477.00,203.00 487.00,200.50 497.00,198.00 505.00,197.00 517.50,195.50 530.00,194.50 542.50,195.00 552.50,197.00 562.50,197.50 572.50,197.00" fill="none" stroke="#17becf" stroke-width="2" stroke-dasharray="6.5 3"/>
<polyline points="416.30,242.90 422.60,246.10 428.90,247.50 436.30,243.90 441.60,248.20 447.90,254.50 453.20,241.80 457.40,232.40 461.60,236.60 466.80,238.70 473.20,233.40 479.50,226.10 484.70,216.60 490.00,206.00 496.30,200.80 500.50,198.70 504.70,208.20 510.00,211.30 514.20,207.70 518.40,211.30 522.60,216.60 527.90,215.50 534.20,211.30 540.50,214.50 545.80,217.60 551.00,223.90 556.30,223.90 560.50,225.00 564.70,232.40 568.30,237.60 572.50,245.00" fill="none" stroke="#17becf" stroke-width="2.3" stroke-dasharray="0.01 4.5" stroke-linecap="round"/>
<line x1="467.5" y1="185.5" x2="467.5" y2="357.5" stroke="#d62728" stroke-width="1" stroke-dasharray="1.5 1.5" stroke-opacity="0.8"/>
<line x1="407.5" y1="197.5" x2="572.5" y2="197.5" stroke="#ff7f0e" stroke-width="1" stroke-dasharray="1.5 1.5" stroke-opacity="0.8"/>
</g>
<line x1="416.32" y1="357.5" x2="416.32" y2="356.0" stroke="#b0b0b0" stroke-width="0.7"/><line x1="428.21" y1="357.5" x2="428.21" y2="356.0" stroke="#b0b0b0" stroke-width="0.7"/><line x1="436.64" y1="357.5" x2="436.64" y2="356.0" stroke="#b0b0b0" stroke-width="0.7"/><line x1="443.18" y1="357.5" x2="443.18" y2="356.0" stroke="#b0b0b0" stroke-width="0.7"/><line x1="448.53" y1="357.5" x2="448.53" y2="356.0" stroke="#b0b0b0" stroke-width="0.7"/><line x1="453.04" y1="357.5" x2="453.04" y2="356.0" stroke="#b0b0b0" stroke-width="0.7"/><line x1="456.96" y1="357.5" x2="456.96" y2="356.0" stroke="#b0b0b0" stroke-width="0.7"/><line x1="460.41" y1="357.5" x2="460.41" y2="356.0" stroke="#b0b0b0" stroke-width="0.7"/><line x1="463.50" y1="357.5" x2="463.50" y2="355.0" stroke="#b0b0b0" stroke-width="0.7"/><line x1="483.82" y1="357.5" x2="483.82" y2="356.0" stroke="#b0b0b0" stroke-width="0.7"/><line x1="495.71" y1="357.5" x2="495.71" y2="356.0" stroke="#b0b0b0" stroke-width="0.7"/><line x1="504.14" y1="357.5" x2="504.14" y2="356.0" stroke="#b0b0b0" stroke-width="0.7"/><line x1="510.68" y1="357.5" x2="510.68" y2="356.0" stroke="#b0b0b0" stroke-width="0.7"/><line x1="516.03" y1="357.5" x2="516.03" y2="356.0" stroke="#b0b0b0" stroke-width="0.7"/><line x1="520.54" y1="357.5" x2="520.54" y2="356.0" stroke="#b0b0b0" stroke-width="0.7"/><line x1="524.46" y1="357.5" x2="524.46" y2="356.0" stroke="#b0b0b0" stroke-width="0.7"/><line x1="527.91" y1="357.5" x2="527.91" y2="356.0" stroke="#b0b0b0" stroke-width="0.7"/><line x1="531.00" y1="357.5" x2="531.00" y2="355.0" stroke="#b0b0b0" stroke-width="0.7"/><line x1="551.32" y1="357.5" x2="551.32" y2="356.0" stroke="#b0b0b0" stroke-width="0.7"/><line x1="563.21" y1="357.5" x2="563.21" y2="356.0" stroke="#b0b0b0" stroke-width="0.7"/><line x1="571.64" y1="357.5" x2="571.64" y2="356.0" stroke="#b0b0b0" stroke-width="0.7"/><line x1="407.5" y1="353.43" x2="409.0" y2="353.43" stroke="#b0b0b0" stroke-width="0.7"/><line x1="407.5" y1="350.16" x2="409.0" y2="350.16" stroke="#b0b0b0" stroke-width="0.7"/><line x1="407.5" y1="347.39" x2="409.0" y2="347.39" stroke="#b0b0b0" stroke-width="0.7"/><line x1="407.5" y1="345.00" x2="409.0" y2="345.00" stroke="#b0b0b0" stroke-width="0.7"/><line x1="407.5" y1="342.88" x2="409.0" y2="342.88" stroke="#b0b0b0" stroke-width="0.7"/><line x1="407.5" y1="340.99" x2="410.0" y2="340.99" stroke="#b0b0b0" stroke-width="0.7"/><line x1="407.5" y1="328.55" x2="409.0" y2="328.55" stroke="#b0b0b0" stroke-width="0.7"/><line x1="407.5" y1="321.27" x2="409.0" y2="321.27" stroke="#b0b0b0" stroke-width="0.7"/><line x1="407.5" y1="316.11" x2="409.0" y2="316.11" stroke="#b0b0b0" stroke-width="0.7"/><line x1="407.5" y1="312.10" x2="409.0" y2="312.10" stroke="#b0b0b0" stroke-width="0.7"/><line x1="407.5" y1="308.83" x2="409.0" y2="308.83" stroke="#b0b0b0" stroke-width="0.7"/><line x1="407.5" y1="306.06" x2="409.0" y2="306.06" stroke="#b0b0b0" stroke-width="0.7"/><line x1="407.5" y1="303.67" x2="409.0" y2="303.67" stroke="#b0b0b0" stroke-width="0.7"/><line x1="407.5" y1="301.55" x2="409.0" y2="301.55" stroke="#b0b0b0" stroke-width="0.7"/><line x1="407.5" y1="299.66" x2="410.0" y2="299.66" stroke="#b0b0b0" stroke-width="0.7"/><line x1="407.5" y1="287.22" x2="409.0" y2="287.22" stroke="#b0b0b0" stroke-width="0.7"/><line x1="407.5" y1="279.94" x2="409.0" y2="279.94" stroke="#b0b0b0" stroke-width="0.7"/><line x1="407.5" y1="274.78" x2="409.0" y2="274.78" stroke="#b0b0b0" stroke-width="0.7"/><line x1="407.5" y1="270.77" x2="409.0" y2="270.77" stroke="#b0b0b0" stroke-width="0.7"/><line x1="407.5" y1="267.50" x2="409.0" y2="267.50" stroke="#b0b0b0" stroke-width="0.7"/><line x1="407.5" y1="264.73" x2="409.0" y2="264.73" stroke="#b0b0b0" stroke-width="0.7"/><line x1="407.5" y1="262.34" x2="409.0" y2="262.34" stroke="#b0b0b0" stroke-width="0.7"/><line x1="407.5" y1="260.22" x2="409.0" y2="260.22" stroke="#b0b0b0" stroke-width="0.7"/><line x1="407.5" y1="258.33" x2="410.0" y2="258.33" stroke="#b0b0b0" stroke-width="0.7"/><line x1="407.5" y1="245.89" x2="409.0" y2="245.89" stroke="#b0b0b0" stroke-width="0.7"/><line x1="407.5" y1="238.61" x2="409.0" y2="238.61" stroke="#b0b0b0" stroke-width="0.7"/><line x1="407.5" y1="233.45" x2="409.0" y2="233.45" stroke="#b0b0b0" stroke-width="0.7"/><line x1="407.5" y1="229.44" x2="409.0" y2="229.44" stroke="#b0b0b0" stroke-width="0.7"/><line x1="407.5" y1="226.17" x2="409.0" y2="226.17" stroke="#b0b0b0" stroke-width="0.7"/><line x1="407.5" y1="223.40" x2="409.0" y2="223.40" stroke="#b0b0b0" stroke-width="0.7"/><line x1="407.5" y1="221.01" x2="409.0" y2="221.01" stroke="#b0b0b0" stroke-width="0.7"/><line x1="407.5" y1="218.89" x2="409.0" y2="218.89" stroke="#b0b0b0" stroke-width="0.7"/><line x1="407.5" y1="217.00" x2="410.0" y2="217.00" stroke="#b0b0b0" stroke-width="0.7"/><line x1="407.5" y1="204.56" x2="409.0" y2="204.56" stroke="#b0b0b0" stroke-width="0.7"/><line x1="407.5" y1="197.28" x2="409.0" y2="197.28" stroke="#b0b0b0" stroke-width="0.7"/><line x1="407.5" y1="192.12" x2="409.0" y2="192.12" stroke="#b0b0b0" stroke-width="0.7"/><line x1="407.5" y1="188.11" x2="409.0" y2="188.11" stroke="#b0b0b0" stroke-width="0.7"/>
<rect x="407.5" y="185.5" width="165.0" height="172.0" fill="none" stroke="#c2c2c2" stroke-width="1.5"/>
<text x="415.9" y="197.1" font-family="Liberation Sans" font-size="11.2" fill="#111" stroke="#111" stroke-width="0.3" textLength="53.7" lengthAdjust="spacingAndGlyphs">NGC 4579</text>
<g transform="translate(405.5,220.4) scale(0.95,1)"><text x="0" y="0" text-anchor="end" font-family="Liberation Serif" font-size="9" fill="#1a1a1a" stroke="#1a1a1a" stroke-width="0.35">10<tspan font-size="6.6" dx="0.9" dy="-3.0">−3</tspan></text></g>
<g transform="translate(405.5,262.4) scale(0.95,1)"><text x="0" y="0" text-anchor="end" font-family="Liberation Serif" font-size="9" fill="#1a1a1a" stroke="#1a1a1a" stroke-width="0.35">10<tspan font-size="6.6" dx="0.9" dy="-3.0">−4</tspan></text></g>
<g transform="translate(405.5,303.4) scale(0.95,1)"><text x="0" y="0" text-anchor="end" font-family="Liberation Serif" font-size="9" fill="#1a1a1a" stroke="#1a1a1a" stroke-width="0.35">10<tspan font-size="6.6" dx="0.9" dy="-3.0">−5</tspan></text></g>
<g transform="translate(405.5,344.4) scale(0.95,1)"><text x="0" y="0" text-anchor="end" font-family="Liberation Serif" font-size="9" fill="#1a1a1a" stroke="#1a1a1a" stroke-width="0.35">10<tspan font-size="6.6" dx="0.9" dy="-3.0">−6</tspan></text></g>
<g transform="translate(464,364.9) scale(0.95,1)"><text x="0" y="0" text-anchor="middle" font-family="Liberation Serif" font-size="9" fill="#1a1a1a" stroke="#1a1a1a" stroke-width="0.35">10<tspan font-size="6.6" dx="0.9" dy="-3.0">1</tspan></text></g>
<g transform="translate(531,364.9) scale(0.95,1)"><text x="0" y="0" text-anchor="middle" font-family="Liberation Serif" font-size="9" fill="#1a1a1a" stroke="#1a1a1a" stroke-width="0.35">10<tspan font-size="6.6" dx="0.9" dy="-3.0">2</tspan></text></g>
<text x="380" y="376.5" text-anchor="middle" font-family="Liberation Sans" font-size="11.8" fill="#111" stroke="#111" stroke-width="0.35" textLength="115.5" lengthAdjust="spacingAndGlyphs">Timescale (Δ t [days])</text>
<text transform="translate(12.4,217) rotate(-90)" font-family="Liberation Sans" font-size="10.4" fill="#111" stroke="#111" stroke-width="0.3" textLength="54.5" lengthAdjust="spacingAndGlyphs">Δ SF<tspan font-size="7.2" dy="-4">2</tspan><tspan dy="4"> [Jy</tspan><tspan font-size="7.2" dy="-4">2</tspan><tspan dy="4">]</tspan></text>
<rect x="589.3" y="185.3" width="104.2" height="43.4" rx="2" ry="2" fill="#fff" fill-opacity="0.8" stroke="#dcdcdc" stroke-width="0.8"/>
<text x="615.3" y="195.9" font-family="Liberation Sans" font-size="8.3" fill="#111" stroke="#111" stroke-width="0.15" textLength="52.2" lengthAdjust="spacingAndGlyphs">SF analysis:</text>
<line x1="602" y1="202.7" x2="602" y2="211" stroke="#999" stroke-width="1.5"/>
<text x="617.5" y="209.5" font-family="Liberation Sans" font-size="8.3" fill="#111" stroke="#111" stroke-width="0.15" textLength="46.2" lengthAdjust="spacingAndGlyphs">Δ SF<tspan font-size="6.4" dy="-3.2">2</tspan><tspan dy="3.2"> [Jy</tspan><tspan font-size="6.4" dy="-3.2">2</tspan><tspan dy="3.2">]</tspan></text>
<rect x="593.3" y="217" width="17.4" height="5.8" fill="#808080" fill-opacity="0.4"/>
<text x="618" y="222.8" font-family="Liberation Sans" font-size="8.3" fill="#111" stroke="#111" stroke-width="0.15" textLength="71.4" lengthAdjust="spacingAndGlyphs">dependent error</text>
<rect x="589.6" y="245.3" width="152.2" height="41" rx="2" ry="2" fill="#fff" fill-opacity="0.8" stroke="#dcdcdc" stroke-width="0.8"/>
<text x="593.4" y="256.4" font-family="Liberation Sans" font-size="8.3" fill="#111" stroke="#111" stroke-width="0.15" textLength="144.2" lengthAdjust="spacingAndGlyphs">SF of DRW simulated light curve:</text>
<line x1="618.3" y1="265.3" x2="634.5" y2="265.3" stroke="#17becf" stroke-width="2" stroke-dasharray="6.5 3"/>
<text x="642.9" y="268.4" font-family="Liberation Sans" font-size="8.3" fill="#111" stroke="#111" stroke-width="0.15" textLength="67.8" lengthAdjust="spacingAndGlyphs">1-day sampling</text>
<line x1="618.4" y1="278.5" x2="634.5" y2="278.5" stroke="#17becf" stroke-width="2.3" stroke-dasharray="0.01 4.95" stroke-linecap="round"/>
<text x="642.9" y="281" font-family="Liberation Sans" font-size="8.3" fill="#111" stroke="#111" stroke-width="0.15" textLength="69.9" lengthAdjust="spacingAndGlyphs">actual sampling</text>
<rect x="589.4" y="302.1" width="112.2" height="41.9" rx="2" ry="2" fill="#fff" fill-opacity="0.8" stroke="#dcdcdc" stroke-width="0.8"/>
<text x="593.7" y="313.2" font-family="Liberation Sans" font-size="8.3" fill="#111" stroke="#111" stroke-width="0.15" textLength="103.8" lengthAdjust="spacingAndGlyphs">DRW fitted parameters:</text>
<line x1="612.6" y1="322.6" x2="630.8" y2="322.6" stroke="#d62728" stroke-width="1" stroke-dasharray="1.5 1.5" stroke-opacity="0.8"/>
<text x="637.9" y="325.3" font-family="Liberation Sans" font-size="8.3" fill="#111" stroke="#111" stroke-width="0.15" textLength="29.2" lengthAdjust="spacingAndGlyphs">DRW <tspan font-style="italic">τ</tspan></text>
<line x1="612.6" y1="335.8" x2="630.8" y2="335.8" stroke="#ff7f0e" stroke-width="1" stroke-dasharray="1.5 1.5" stroke-opacity="0.8"/>
<text x="637.9" y="338.4" font-family="Liberation Sans" font-size="8.3" fill="#111" stroke="#111" stroke-width="0.15" textLength="39.5" lengthAdjust="spacingAndGlyphs">DRW 2<tspan font-style="italic">σ</tspan><tspan font-size="6.4" dy="-3.2">2</tspan></text>
</svg></body></html>
